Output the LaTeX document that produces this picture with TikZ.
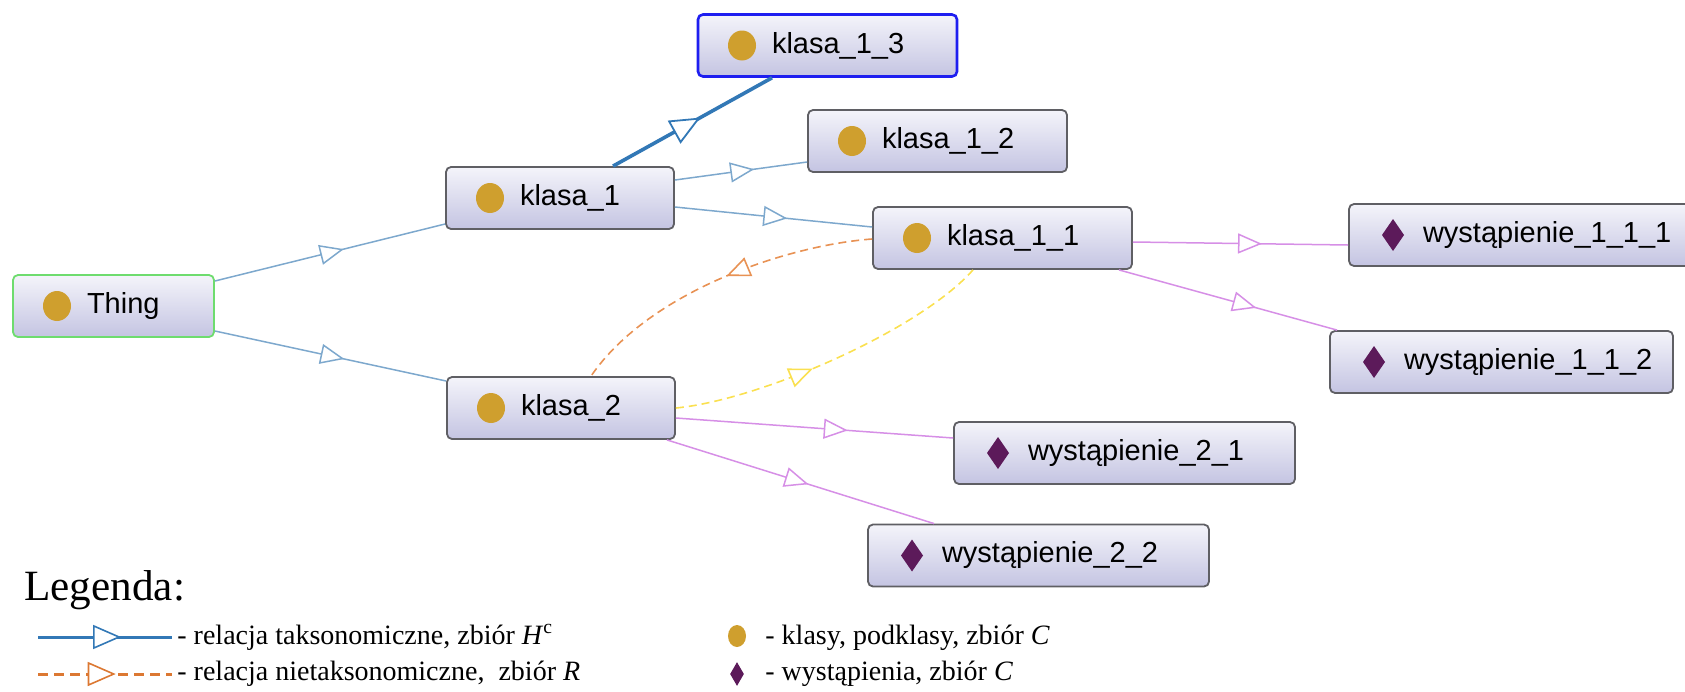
\documentclass[tikz,border=0pt]{standalone}
\usepackage{fontspec}
\setmainfont{Liberation Sans}
\newfontfamily\legfont{Liberation Serif}
\usetikzlibrary{arrows.meta,decorations.markings,shapes.geometric}
\definecolor{gold}{RGB}{207,159,46}
\definecolor{plum}{RGB}{92,26,90}
\definecolor{edgegrey}{RGB}{95,95,100}
\definecolor{boxtop}{RGB}{244,244,250}
\definecolor{boxbot}{RGB}{196,196,226}
\definecolor{thinggreen}{RGB}{110,220,110}
\definecolor{selblue}{RGB}{30,30,240}
\definecolor{isablue}{RGB}{125,168,205}
\definecolor{isadark}{RGB}{50,120,182}
\definecolor{reloran}{RGB}{232,146,84}
\definecolor{relyel}{RGB}{250,224,80}
\definecolor{instpur}{RGB}{214,143,230}
\definecolor{legorange}{RGB}{220,120,50}

\begin{document}
\begin{tikzpicture}[x=0.5pt, y=-0.5pt,
  box/.style={draw=edgegrey, line width=0.9pt, rounded corners=2.5pt, top color=boxtop, bottom color=boxbot,
    minimum height=31pt, inner xsep=0pt, text width=#1, align=left, font=\fontsize{14.5}{16}\selectfont,
    execute at begin node=\hspace*{37pt}},
  cls/.style={box=#1, path picture={\fill[gold] ([xshift=22pt]path picture bounding box.west) ellipse (7pt and 7.5pt);}},
  ind/.style={box=#1, path picture={\fill[plum, sharp corners] ([xshift=22pt, yshift=8pt]path picture bounding box.west)
    -- ++(5.5pt,-8pt) -- ++(-5.5pt,-8pt) -- ++(-5.5pt,8pt) -- cycle;}},
  mid/.style={postaction={decorate, decoration={markings,
    mark=at position #1 with {\arrow{Triangle[length=12pt, width=10pt, fill=white]}}}}},
  isa/.style={draw=isablue, line width=0.75pt, mid=#1},
  rel/.style={line width=0.8pt, dash pattern=on 4pt off 2.5pt, mid=#1},
  inst/.style={draw=instpur, line width=0.75pt, mid=#1},
  legtxt/.style={anchor=base west, inner sep=0pt, font=\legfont\fontsize{14}{16}\selectfont}]

\useasboundingbox (0,0) rectangle (1685,691);

\node[cls=100.5pt, draw=thinggreen] (t) at (113.5,306) {Thing};
\node[cls=114pt] (k1) at (560,198) {klasa\_1};
\node[cls=114pt] (k2) at (561,408) {klasa\_2};
\node[cls=129.5pt, draw=selblue, line width=1.3pt] (k13) at (827.5,45.5) {klasa\_1\_3};
\node[cls=129.5pt] (k12) at (937.5,141) {klasa\_1\_2};
\node[cls=129.5pt] (k11) at (1002.5,238) {klasa\_1\_1};
\node[ind=171.5pt] (w111) at (1520.5,235) {wystąpienie\_1\_1\_1};
\node[ind=171.5pt] (w112) at (1501.5,362) {wystąpienie\_1\_1\_2};
\node[ind=170.5pt] (w21) at (1124.5,453) {wystąpienie\_2\_1};
\node[ind=170.5pt] (w22) at (1038.5,555.5) {wystąpienie\_2\_2};

\draw[isa=0.56] ([yshift=12.5pt]t.east) -- ([yshift=-13pt]k1.west);
\draw[isa=0.56] ([yshift=-12.5pt]t.east) -- ([yshift=13.5pt]k2.west);
\draw[draw=isadark, line width=1.8pt, postaction={decorate, decoration={markings,
  mark=at position 0.55 with {\arrow{Triangle[length=15pt, width=13pt, fill=white, line width=0.9pt]}}}}]
  ([xshift=26.5pt]k1.north) -- ([xshift=-27.75pt]k13.south);
\draw[isa=0.6] ([yshift=9pt]k1.east) -- ([yshift=-10.5pt]k12.west);
\draw[isa=0.57] ([yshift=-4.5pt]k1.east) -- ([yshift=5.5pt]k11.west);
\draw[rel=0.47, draw=reloran] ([yshift=-0.5pt]k11.west) .. controls (790,245) and (650,290) .. ([xshift=15pt]k2.north);
\draw[rel=0.43, draw=relyel] (k2.east) .. controls (760,400) and (920,330) .. ([xshift=-14.75pt]k11.south);
\draw[inst=0.6] ([yshift=-2pt]k11.east) -- ([yshift=-5pt]w111.west);
\draw[inst=0.63] ([xshift=-7pt]k11.south east) -- ([xshift=4pt]w112.north west);
\draw[inst=0.62] ([yshift=-5pt]k2.east) -- ([yshift=7.5pt]w21.west);
\draw[inst=0.53] ([xshift=-4.5pt]k2.south east) -- ([xshift=33.5pt]w22.north west);

\node[anchor=base west, inner sep=0pt, font=\legfont\fontsize{21.6}{24}\selectfont] (leg) at (24,600) {Legenda:};
\coordinate (l1a) at (38,637);
\coordinate (l1b) at (172,637);
\coordinate (l2a) at (38,674);
\coordinate (l2b) at (172,674);
\draw[draw=isadark, line width=1.5pt, postaction={decorate, decoration={markings,
  mark=at position 0.62 with {\arrow{Triangle[length=14pt, width=12pt, fill=white, line width=0.8pt]}}}}] (l1a) -- (l1b);
\draw[draw=legorange, line width=1.5pt, dash pattern=on 5pt off 3pt, postaction={decorate, decoration={markings,
  mark=at position 0.58 with {\arrow{Triangle[length=14pt, width=12pt, fill=white, line width=0.8pt]}}}}] (l2a) -- (l2b);
\node[legtxt] (l1t) at (177,644) {- relacja taksonomiczne, zbiór \textit{H}\textsuperscript{c}};
\node[legtxt] (l2t) at (177,680) {- relacja nietaksonomiczne,\ \ zbiór \textit{R}};
\node[ellipse, fill=gold, minimum width=9pt, minimum height=11pt, inner sep=0pt] (lgc) at (737,636) {};
\node[diamond, fill=plum, minimum width=7pt, minimum height=12pt, inner sep=0pt] (lgd) at (737,674) {};
\node[legtxt] (lct) at (765,644) {- klasy, podklasy, zbiór \textit{C}};
\node[legtxt] (ldt) at (765,680) {- wystąpienia, zbiór \textit{C}};
\end{tikzpicture}
\end{document}
